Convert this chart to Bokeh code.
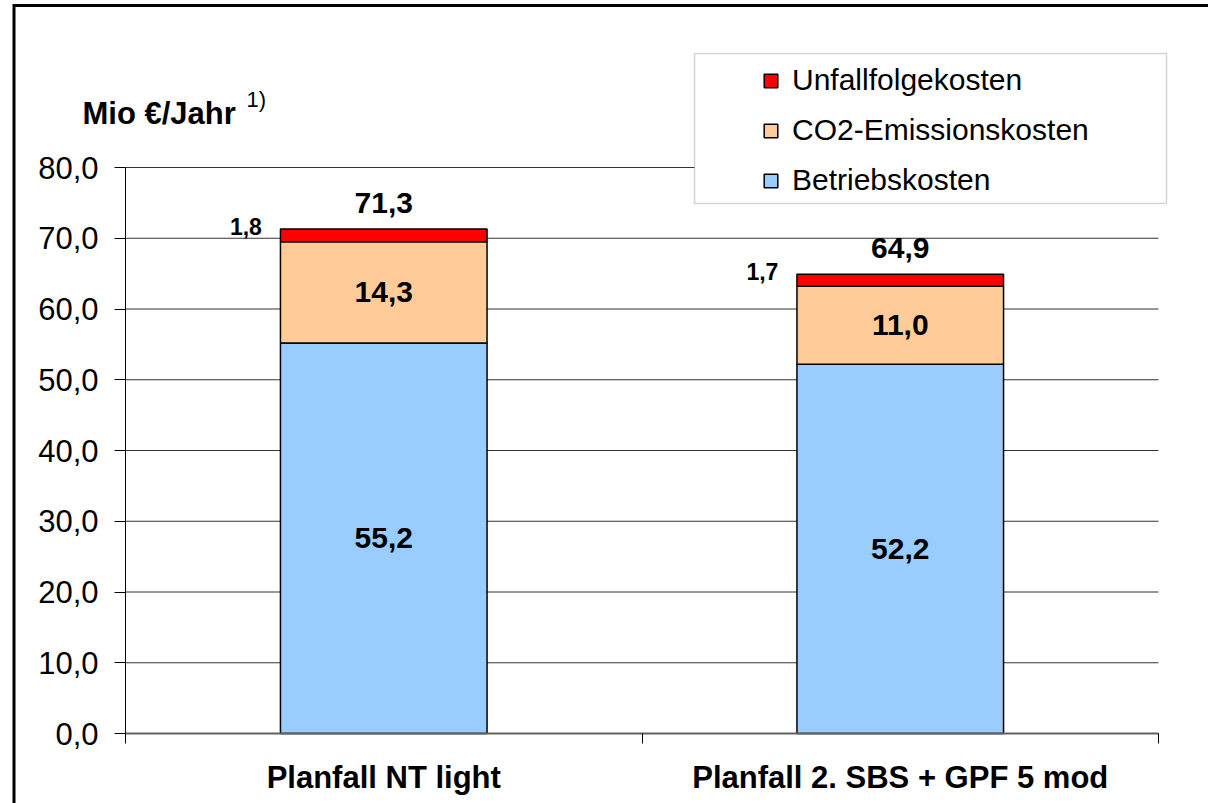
from bokeh.plotting import figure
from bokeh.models import (Range1d, FixedTicker, CustomJSTickFormatter,
                          ColumnDataSource, Legend, LegendItem, Label, BoxAnnotation)
from bokeh.core.properties import value
from bokeh.embed import file_html
from bokeh.resources import INLINE

# ---------------- data ----------------
categories = ["Planfall NT light", "Planfall 2. SBS + GPF 5 mod"]
betriebskosten = [55.2, 52.2]
co2_emissionskosten = [14.3, 11.0]
unfallfolgekosten = [1.8, 1.7]
series_keys = ["betrieb", "co2", "unfall"]
series_names = ["Betriebskosten", "CO2-Emissionskosten", "Unfallfolgekosten"]
series_colors = ["#99CCFF", "#FFCC99", "#FF0000"]
y_ticks = [0, 10, 20, 30, 40, 50, 60, 70, 80]
y_title = "Mio €/Jahr"
y_title_note = "1)"

FONT = "Liberation Sans"

# ---------------- layout (page pixels) ----------------
W, H = 1208, 803          # canvas size
OX, OY = 0, 0             # canvas origin on the page
AX_L, AX_R = 125, 1158    # x of category range start / end
Y0, Y80 = 733, 167        # y of value 0 / value 80
n = len(categories)
PXX = (AX_R - AX_L) / n
PXY = (Y0 - Y80) / 80.0


def dx(px):   # page x -> data x
    return (px - AX_L) / PXX


def dy(py):   # page y -> data y
    return (Y0 - py) / PXY


def fmt(v):
    return f"{v:.1f}".replace(".", ",")


xpos = [i + 0.5 for i in range(n)]          # category centres on the x scale
totals = [round(b + c + u, 1) for b, c, u in zip(betriebskosten, co2_emissionskosten, unfallfolgekosten)]

p = figure(width=W, height=H,
           x_range=Range1d(dx(OX), dx(OX + W)), y_range=Range1d(dy(OY + H), dy(OY)),
           output_backend="svg", toolbar_location=None,
           min_border=0)
p.title.visible = False
p.outline_line_color = None
p.background_fill_color = "white"
p.border_fill_color = "white"
p.xgrid.visible = False
p.ygrid.visible = False

# page frame (left and top edge)
p.line(x=[dx(13.5), dx(13.5), dx(OX + W + 50)], y=[dy(OY + H + 50), dy(5), dy(5)],
       line_color="black", line_width=3, line_join="miter")

# horizontal grid lines over the category span
p.segment(x0=[0] * len(y_ticks), x1=[n] * len(y_ticks), y0=y_ticks, y1=y_ticks,
          line_color="#333333", line_width=1)

# y axis
ya = p.yaxis[0]
ya.fixed_location = 0
ya.bounds = (y_ticks[0], y_ticks[-1])
ya.ticker = FixedTicker(ticks=y_ticks)
ya.formatter = CustomJSTickFormatter(code="return tick.toFixed(1).replace('.', ',')")
ya.major_tick_out = 11
ya.major_tick_in = 0
ya.minor_tick_line_color = None
ya.axis_line_color = "black"
ya.major_tick_line_color = "black"
ya.major_label_standoff = 16
ya.major_label_text_font = FONT
ya.major_label_text_font_size = "31px"
ya.major_label_text_color = "black"

# x axis: boundary ticks (minor) and centred category labels (major)
xa = p.xaxis[0]
xa.fixed_location = 0
xa.bounds = (0, n)
xa.ticker = FixedTicker(ticks=xpos, minor_ticks=list(range(n + 1)))
xa.formatter = CustomJSTickFormatter(args=dict(cats=categories),
                                     code="const i = Math.floor(tick); return (i >= 0 && i < cats.length) ? cats[i] : '';")
xa.major_tick_line_color = None
xa.major_tick_out = 0
xa.major_tick_in = 0
xa.minor_tick_out = 10
xa.minor_tick_in = 0
xa.minor_tick_line_color = "black"
xa.axis_line_color = "#606060"
xa.axis_line_width = 2
xa.major_label_standoff = 16
xa.major_label_text_font = FONT
xa.major_label_text_font_size = "31px"
xa.major_label_text_font_style = "bold"
xa.major_label_text_color = "black"

# bars
src = ColumnDataSource(dict(x=xpos, betrieb=betriebskosten,
                            co2=co2_emissionskosten, unfall=unfallfolgekosten))
rs = p.vbar_stack(series_keys, x="x", width=0.4, source=src,
                  fill_color=series_colors, line_color="black", line_width=1.5)

# segment labels
seg_y = [b / 2 for b in betriebskosten] + [b + c / 2 for b, c in zip(betriebskosten, co2_emissionskosten)]
seg_t = [fmt(v) for v in betriebskosten] + [fmt(v) for v in co2_emissionskosten]
seg_src = ColumnDataSource(dict(x=xpos * 2, y=seg_y, text=seg_t))
p.text(x="x", y="y", text="text", source=seg_src, text_align="center", text_baseline="middle",
       text_font=value(FONT), text_font_style="bold", text_font_size="30px", text_color="black")

# totals
tot_src = ColumnDataSource(dict(x=xpos, y=totals, text=[fmt(v) for v in totals]))
p.text(x="x", y="y", text="text", source=tot_src, text_align="center", text_baseline="alphabetic",
       y_offset=-26, text_font=value(FONT), text_font_style="bold", text_font_size="30px", text_color="black")

# small red-segment labels (left of bar)
u_src = ColumnDataSource(dict(x=[x - 0.236 for x in xpos], y=totals, text=[fmt(v) for v in unfallfolgekosten]))
p.text(x="x", y="y", text="text", source=u_src,
       text_align="right", text_baseline="alphabetic", y_offset=-3,
       text_font=value(FONT), text_font_style="bold", text_font_size="23px", text_color="black")

# y title
p.add_layout(Label(x=dx(82), y=dy(113), text=y_title, text_align="left", text_baseline="alphabetic",
                   text_font=FONT, text_font_style="bold", text_font_size="31px", text_color="black"))
p.add_layout(Label(x=dx(246), y=dy(99), text=y_title_note, text_align="left", text_baseline="alphabetic",
                   text_font=FONT, text_font_size="22px", text_color="black"))

# legend box
p.add_layout(BoxAnnotation(left=dx(694), right=dx(1166), bottom=dy(203), top=dy(53),
                           fill_color="white", fill_alpha=1.0, line_color="#707070", line_width=1.5))

items = [LegendItem(label=series_names[i], renderers=[rs[i]]) for i in (2, 1, 0)]
legend = Legend(items=items, location=(762 - OX, OY + H - 197), padding=0, margin=0,
                border_line_color=None, background_fill_alpha=0,
                glyph_width=17, glyph_height=17, label_standoff=13, spacing=16, label_height=34,
                label_text_font=FONT, label_text_font_size="30px", label_text_color="black")
p.add_layout(legend)

open("out.html", "w").write(file_html(p, INLINE))
